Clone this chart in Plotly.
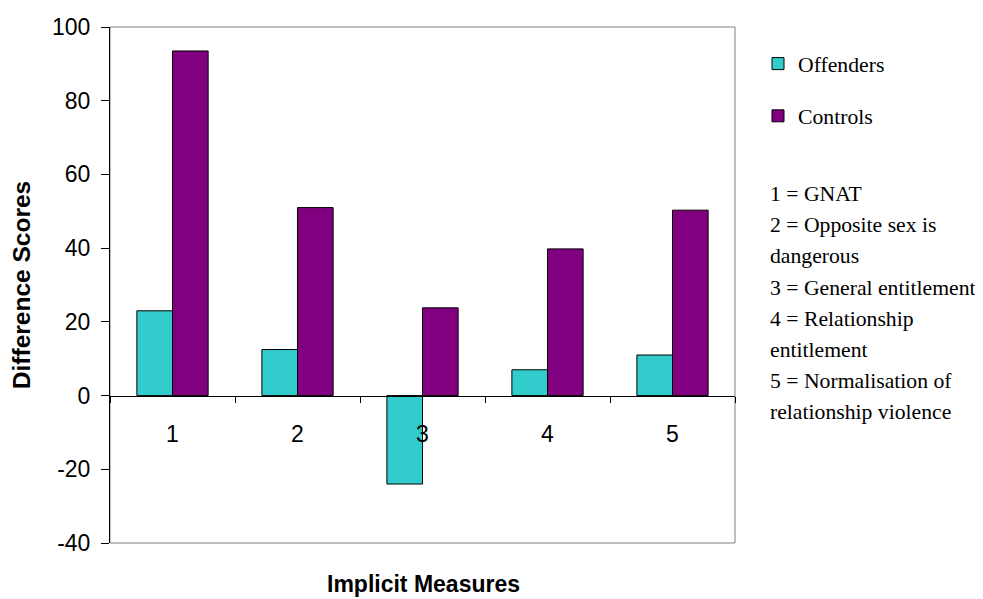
import plotly.graph_objects as go

categories = ["1", "2", "3", "4", "5"]
offenders = [23.0, 12.5, -24.0, 7.0, 11.0]
controls = [93.5, 51.0, 23.8, 39.8, 50.3]
y_ticks = [-40, -20, 0, 20, 40, 60, 80, 100]
y_tick_labels = ["-40", "-20", "0", "20", "40", "60", "80", "100"]
key_lines = [
    "1 = GNAT",
    "2 = Opposite sex is",
    "dangerous",
    "3 = General entitlement",
    "4 = Relationship",
    "entitlement",
    "5 = Normalisation of",
    "relationship violence",
]

# page body has an 8px margin; figure is sized to fill the rest of the window
PAGE_OFF = 8
W, H = 983 - PAGE_OFF, 599 - PAGE_OFF
# plot area in window pixels
X0, X1, Y0, Y1 = 110, 735, 27, 543
L, T = X0 - PAGE_OFF, Y0 - PAGE_OFF
R, B = 983 - X1, 599 - Y1
plot_h = Y1 - Y0
plot_w = X1 - X0

def py(pix):
    return (Y1 - pix) / plot_h

def px(pix):
    return (pix - X0) / plot_w

fig = go.Figure()
fig.add_trace(go.Bar(x=categories, y=offenders, name="Offenders",
                     marker=dict(color="#33CCCC", line=dict(color="black", width=1)),
                     legendgroup="a"))
fig.add_trace(go.Bar(x=categories, y=controls, name="Controls",
                     marker=dict(color="#800080", line=dict(color="black", width=1)),
                     legendgroup="b"))

ymin, ymax = -40, 100
zero_pos = (0 - ymin) / (ymax - ymin)

fig.update_layout(
    width=W, height=H,
    margin=dict(l=L, r=R, t=T, b=B, autoexpand=False),
    paper_bgcolor="white", plot_bgcolor="white",
    barmode="group", bargap=0.43, bargroupgap=0,
    font=dict(family="Liberation Sans, Arial", size=23, color="black"),
    showlegend=True,
    legend=dict(x=px(758), y=py(43), xanchor="left", yanchor="top",
                font=dict(family="Liberation Serif, Times New Roman", size=21.7),
                tracegroupgap=21, bgcolor="rgba(0,0,0,0)"),
    xaxis=dict(type="category", anchor="free", position=zero_pos, automargin=False,
               showline=True, linecolor="black", linewidth=1,
               ticks="outside", tickson="boundaries", ticklen=6, tickcolor="black",
               ticklabelstandoff=18, showgrid=False, zeroline=False,
               tickfont=dict(size=23)),
    yaxis=dict(range=[ymin, ymax], tickvals=y_ticks, ticktext=y_tick_labels,
               automargin=False, showline=True, linecolor="black",
               linewidth=1, ticks="outside", ticklen=8, tickcolor="black",
               ticklabelstandoff=6,
               showgrid=False, zeroline=False, tickfont=dict(size=23),
               title=dict(text="<b>Difference Scores</b>", standoff=19,
                          font=dict(size=24.5))),
)

fig.add_shape(type="rect", xref="paper", yref="paper", x0=0, x1=1, y0=0, y1=1,
              line=dict(color="#808080", width=1), layer="below")

fig.add_annotation(text="<b>Implicit Measures</b>", xref="paper", yref="paper",
                   x=px(423), y=py(584), xanchor="center", yanchor="middle",
                   showarrow=False, font=dict(size=23))

for i, line in enumerate(key_lines):
    fig.add_annotation(text=line, xref="paper", yref="paper",
                       x=px(768), y=py(194 + i * 31.2), xanchor="left", yanchor="middle",
                       showarrow=False,
                       font=dict(family="Liberation Serif, Times New Roman", size=21.7))

fig.write_html("out.html")
